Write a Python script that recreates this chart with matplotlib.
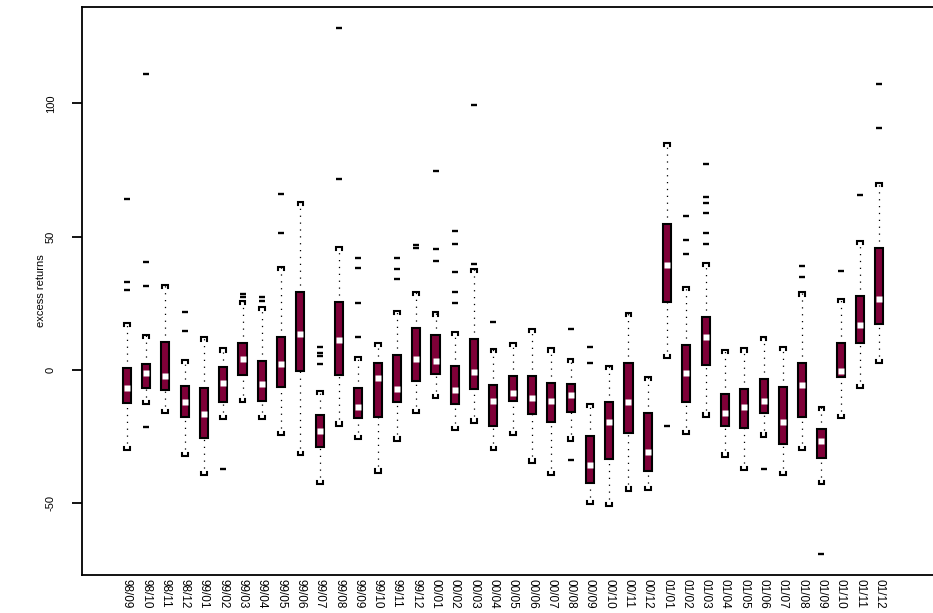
import matplotlib
matplotlib.use("Agg")
from matplotlib import pyplot as plt

plt.rcParams['font.family'] = ['Liberation Sans', 'DejaVu Sans']

labels = ["98/09", "98/10", "98/11", "98/12",
          "99/01", "99/02", "99/03", "99/04", "99/05", "99/06",
          "99/07", "99/08", "99/09", "99/10", "99/11", "99/12",
          "00/01", "00/02", "00/03", "00/04", "00/05", "00/06",
          "00/07", "00/08", "00/09", "00/10", "00/11", "00/12",
          "01/01", "01/02", "01/03", "01/04", "01/05", "01/06",
          "01/07", "01/08", "01/09", "01/10", "01/11", "01/12"]

whisk_lo = [-30, -12.8, -16.3, -32.3, -39.4, -18.4, -12, -18.5, -24.4, -31.9,
            -42.75, -20.9, -26, -38.5, -26.5, -16.25, -10.6, -22.5, -19.75, -30,
            -24.4, -34.75, -39.4, -26.5, -50.25, -51, -45.25, -45, 4.4, -24,
            -17.5, -32.5, -37.5, -25, -39.4, -30, -42.75, -18.1, -6.9, 2.5]
q1 = [-12.3, -6.6, -7.7, -17.5, -25.4, -12.1, -2.0, -11.5, -6.25, -0.4,
      -28.75, -1.9, -18.1, -17.5, -12.1, -4.0, -1.5, -12.75, -7.0, -21,
      -11.5, -16.6, -19.5, -15.6, -42.25, -33.4, -23.75, -37.75, 25.6, -12.1,
      1.9, -20.9, -21.6, -16.25, -27.75, -17.5, -33.1, -2.75, 10, 17.1]
median = [-6.6, -1.0, -2.25, -12.1, -16.5, -4.75, 4.0, -5.25, 2.4, 13.4,
          -22.75, 11.25, -14, -2.9, -7.0, 4.1, 3.4, -7.5, -0.6, -11.5,
          -8.5, -10.6, -11.5, -9.5, -35.6, -19.4, -12.1, -30.75, 39.4, -1.25,
          12.25, -16.25, -13.75, -11.5, -19.4, -5.75, -26.5, -0.25, 16.75, 26.5]
q3 = [0.6, 2.2, 10.6, -5.9, -6.6, 1.0, 10.25, 3.25, 12.5, 29.1,
      -16.75, 25.6, -6.6, 2.5, 5.6, 15.9, 13.1, 1.5, 11.6, -5.6,
      -2.1, -2.25, -5.0, -5.4, -24.75, -11.9, 2.75, -16.25, 54.6, 9.4,
      19.75, -9, -7.25, -3.4, -6.5, 2.5, -22.1, 10, 27.75, 45.6]
whisk_hi = [17.5, 13.1, 31.9, 3.75, 12.2, 8.1, 25.9, 23.75, 38.75, 63.1,
            -7.9, 46.25, 5.0, 10, 22.25, 29.4, 21.6, 14.4, 37.75, 7.9,
            10.25, 15.25, 8.1, 4.1, -12.75, 1.5, 21.25, -2.5, 85.25, 31.25,
            40, 7.5, 8.1, 12.5, 8.75, 29.1, -13.75, 26.6, 48.5, 70.25]
outliers = [[64, 33, 30], [111, 40.3, 31.3, -21.3], [], [21.6, 14.6],
            [], [-37.2], [28.3, 27.2], [27.5, 25.8], [65.9, 51.5], [],
            [8.75, 6.25, 5.25, 2.25], [128.4, 71.5], [42, 38.1, 25.25, 12.5], [],
            [42.1, 37.75, 34.25], [46.9, 45.6], [74.75, 45.25, 41],
            [52.25, 47.25, 36.9, 29.2, 25.25], [99.4, 39.6], [18.1], [], [], [],
            [15.5, -33.75], [8.75, 2.75], [], [], [], [-20.9],
            [57.9, 48.9, 43.4], [77.4, 64.75, 62.5, 59, 51.5, 47.25], [], [],
            [-37.1], [], [39.1, 34.75], [-69.1], [37.25], [65.6], [107.25, 90.75]]

box_color = "#7f0038"

fig = plt.figure(figsize=(9.33, 6.13), dpi=100)
ax = fig.add_axes([82 / 933, 38 / 613, 1 - 82 / 933, (575 - 7) / 613])

xs = list(range(1, len(labels) + 1))
cw, ch = 0.15, 1.2
for i, x in enumerate(xs):
    # dotted whiskers
    ax.plot([x, x], [q3[i], whisk_hi[i]], color='black', lw=0.9,
            dashes=(1, 4.5), zorder=1)
    ax.plot([x, x], [whisk_lo[i], q1[i]], color='black', lw=0.9,
            dashes=(1, 4.5), zorder=1)
    # bracket-like caps
    ax.plot([x - cw, x - cw, x + cw, x + cw],
            [whisk_hi[i] - ch, whisk_hi[i], whisk_hi[i], whisk_hi[i] - ch],
            color='black', lw=1.5, solid_joinstyle='miter', zorder=2)
    ax.plot([x - cw, x - cw, x + cw, x + cw],
            [whisk_lo[i] + ch, whisk_lo[i], whisk_lo[i], whisk_lo[i] + ch],
            color='black', lw=1.5, solid_joinstyle='miter', zorder=2)
    # box
    ax.bar(x, q3[i] - q1[i], bottom=q1[i], width=0.42, color=box_color,
           edgecolor='black', linewidth=1.5, zorder=3)
    # median
    ax.plot(x, median[i], marker='s', ms=3.8, color='white', mec='none', zorder=4)
    # outliers
    if outliers[i]:
        ax.plot([x] * len(outliers[i]), outliers[i], ls='none', marker='_',
                ms=5, mew=1.7, color='black', zorder=2)

ax.set_xlim(-1.32, 42.78)
ax.set_ylim(-76.9, 136.1)

ax.spines['right'].set_visible(False)
for s in ['left', 'top', 'bottom']:
    ax.spines[s].set_linewidth(1.3)

ax.set_xticks(xs)
ax.set_xticklabels(labels, rotation=-90, fontsize=8.5, color='black')
ax.tick_params(axis='x', length=0, pad=3)

ax.set_yticks([-50, 0, 50, 100])
ax.set_yticklabels(['-50', '0', '50', '100'], rotation=90, va='center',
                   fontsize=8, color='black')
ax.tick_params(axis='y', length=7, width=1.3, pad=12)

ax.set_ylabel("excess returns", fontsize=8, labelpad=0)

fig.savefig("out.png", dpi=100)
